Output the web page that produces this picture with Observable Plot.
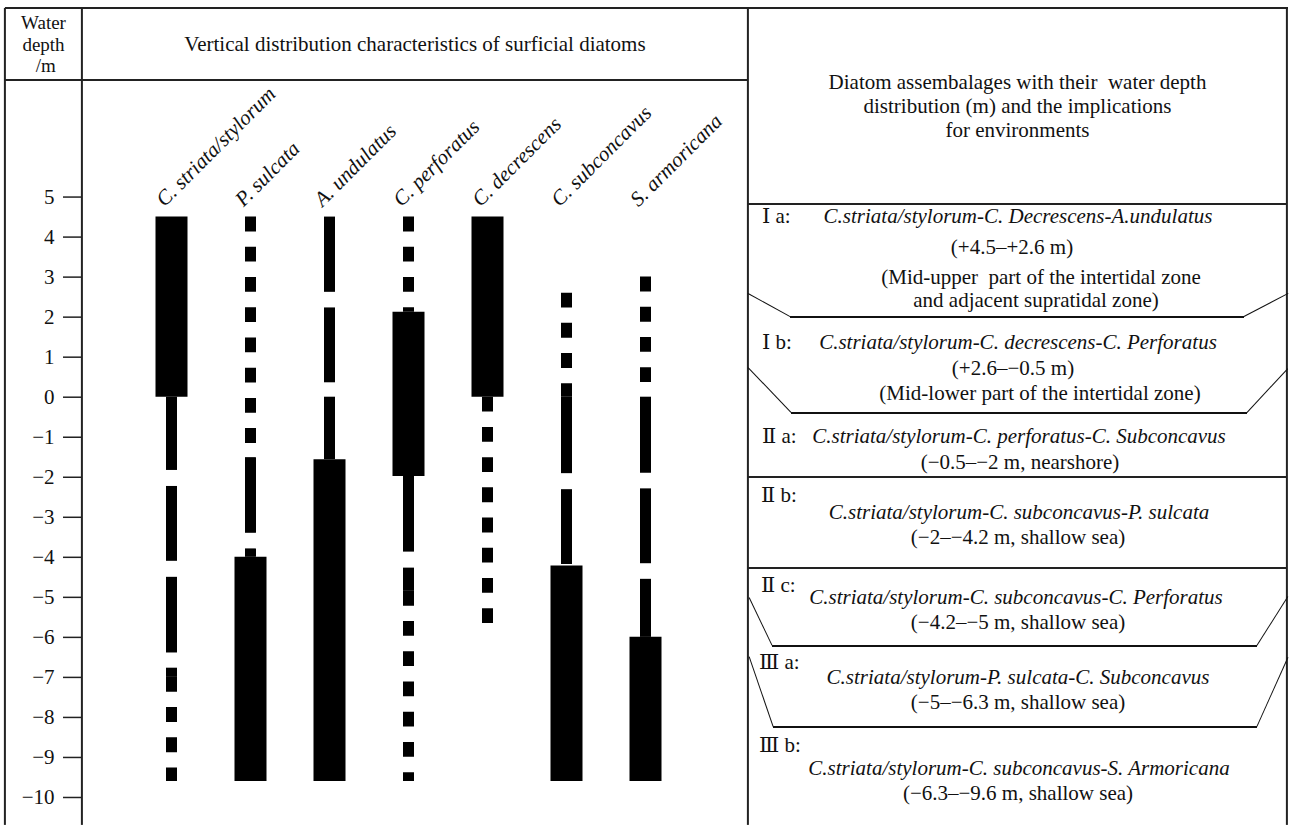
<!DOCTYPE html>
<html><head><meta charset="utf-8">
<script src="https://cdn.jsdelivr.net/npm/d3@7"></script>
<script src="https://cdn.jsdelivr.net/npm/@observablehq/plot@0.6"></script>
<style>
body{margin:0;background:#fff;}
#fig{position:relative;width:1290px;height:825px;overflow:hidden;font-family:"Liberation Serif","DejaVu Serif","Times New Roman",serif;color:#111;background:#fff;}
#chart{position:absolute;left:0;top:80px;}
.ln{position:absolute;background:#222;}
.t{position:absolute;font-size:21px;line-height:1;white-space:pre;}
.s{font-size:19px;}
.i{font-style:italic;}
</style></head><body><div id="fig"><div id="chart"></div></div>
<script>
// ---------- DATA ----------
const species = ["C. striata/stylorum","P. sulcata","A. undulatus","C. perforatus","C. decrescens","C. subconcavus","S. armoricana"];
const depthTicks = [5,4,3,2,1,0,-1,-2,-3,-4,-5,-6,-7,-8,-9,-10];
// [top depth (m), bottom depth (m), abundance class]
const striataSegs = [[4.5,0,"abundant"],[0,-1.83,"common"],[-2.23,-4.1,"common"],[-4.5,-6.39,"common"],[-6.77,-7.0,"common"],[-7.0,-9.6,"rare"]];
const sulcataSegs = [[4.5,-1.51,"rare"],[-1.51,-3.4,"common"],[-3.79,-4.0,"common"],[-4.0,-9.6,"abundant"]];
const undulatusSegs = [[4.5,2.62,"common"],[2.23,0.36,"common"],[0,-1.56,"common"],[-1.56,-9.6,"abundant"]];
const perforatusSegs = [[4.5,2.12,"rare"],[2.12,-1.98,"abundant"],[-1.98,-3.87,"common"],[-4.27,-4.85,"common"],[-4.85,-9.6,"rare"]];
const decrescensSegs = [[4.5,0,"abundant"],[0,-5.66,"rare"]];
const subconcavusSegs = [[2.6,0,"rare"],[0,-1.91,"common"],[-2.31,-4.18,"common"],[-4.22,-9.6,"abundant"]];
const armoricanaSegs = [[3.0,0.3,"rare"],[0,-1.9,"common"],[-2.29,-4.16,"common"],[-4.55,-6.0,"common"],[-6.0,-9.6,"abundant"]];

const zoneCodes = ["Ⅰ a:","Ⅰ b:","Ⅱ a:","Ⅱ b:","Ⅱ c:","Ⅲ a:","Ⅲ b:"];
const zoneAssemblages = [
  "C.striata/stylorum-C. Decrescens-A.undulatus",
  "C.striata/stylorum-C. decrescens-C. Perforatus",
  "C.striata/stylorum-C. perforatus-C. Subconcavus",
  "C.striata/stylorum-C. subconcavus-P. sulcata",
  "C.striata/stylorum-C. subconcavus-C. Perforatus",
  "C.striata/stylorum-P. sulcata-C. Subconcavus",
  "C.striata/stylorum-C. subconcavus-S. Armoricana"];
const zoneRanges = ["(+4.5–+2.6 m)","(+2.6–−0.5 m)","(−0.5–−2 m, nearshore)","(−2–−4.2 m, shallow sea)","(−4.2–−5 m, shallow sea)","(−5–−6.3 m, shallow sea)","(−6.3–−9.6 m, shallow sea)"];
const zoneNotes = [["(Mid-upper  part of the intertidal zone","and adjacent supratidal zone)"],["(Mid-lower part of the intertidal zone)"],[],[],[],[],[]];

const depthHeader = ["Water","depth"," /m"];
const chartTitle = "Vertical distribution characteristics of surficial diatoms";
const rightHeader = ["Diatom assembalages with their  water depth","distribution (m) and the implications","for environments"];

// ---------- BUILD ----------
const segsBySpecies = [striataSegs,sulcataSegs,undulatusSegs,perforatusSegs,decrescensSegs,subconcavusSegs,armoricanaSegs];
const rows = [];
segsBySpecies.forEach((segs,i)=>segs.forEach(([top,bottom,cls])=>rows.push({species:species[i],top,bottom,cls})));

const H = 745;
const yDomain = [-10.70, 7.912];
const pxPerM = H/(yDomain[1]-yDomain[0]);
const dash = 0.37*pxPerM, gap = 0.385*pxPerM;

const chart = Plot.plot({
  width: 748, height: H,
  marginLeft: 82, marginRight: 0, marginTop: 0, marginBottom: 0,
  x: {type:"point", domain: species, range:[169,647], padding:0, axis:null},
  y: {domain: yDomain, axis:null},
  style: {fontFamily:'"Liberation Serif","Times New Roman",serif', fontSize:"21px", color:"#111", background:"transparent", overflow:"visible"},
  marks: [
    Plot.axisY({ticks: depthTicks, tickSize: 19, tickPadding: 9, fontSize: 21, stroke:"#222", strokeWidth:1.5, label:null}),
    Plot.ruleX(rows.filter(d=>d.cls==="abundant"), {x:"species", y1:"top", y2:"bottom", stroke:"#000", strokeWidth:32}),
    Plot.ruleX(rows.filter(d=>d.cls==="common"), {x:"species", y1:"top", y2:"bottom", stroke:"#000", strokeWidth:11}),
    Plot.ruleX(rows.filter(d=>d.cls==="rare"), {x:"species", y1:"top", y2:"bottom", stroke:"#000", strokeWidth:11, strokeDasharray:`${dash},${gap}`}),
    Plot.text(species, {x:d=>d, frameAnchor:"top", dy:127, dx:-7, rotate:-45, textAnchor:"start", lineAnchor:"bottom", fontStyle:"italic", fontSize:21, fill:"#111"})
  ]
});
document.getElementById("chart").appendChild(chart);

// ---------- TABLE LAYOUT ----------
const fig = document.getElementById("fig");
function line(x1,y1,x2,y2,w=1.8,c="#222"){
  const d=document.createElement("div");d.className="ln";
  const len=Math.hypot(x2-x1,y2-y1), ang=Math.atan2(y2-y1,x2-x1)*180/Math.PI;
  d.style.cssText=`left:${x1}px;top:${y1-w/2}px;width:${len}px;height:${w}px;background:${c};transform-origin:0 50%;transform:rotate(${ang}deg);`;
  fig.appendChild(d);
}
function text(s,x,y,anchor="middle",italic=false,cls=""){
  const d=document.createElement("div");d.className="t"+(italic?" i":"")+(cls?" "+cls:"");
  d.textContent=s;
  const tx = anchor==="middle"?"-50%":"0";
  d.style.left=x+"px";d.style.top=y+"px";d.style.transform=`translate(${tx},-50%)`;
  fig.appendChild(d);
}
// frame
line(5,8,1288,8);
line(5,8,5,825);
line(82,8,82,825);
line(5,80,748,80);
line(748,8,748,825);
line(1287,8,1287,825);
line(748,204,1287,204);
line(748,477,1287,477);
line(748,568,1287,568);
// trapezoid zone outlines
const traps = [
  [[748,294],[790,317],[1244,317],[1288,294]],
  [[748,368],[791,413],[1247,413],[1288,369]],
  [[749,598],[772,646],[1257,646],[1288,597]],
  [[749,657],[773,727],[1257,727],[1288,658]]];
traps.forEach(p=>{for(let i=0;i<p.length-1;i++) line(p[i][0],p[i][1],p[i+1][0],p[i+1][1],1.3,"#111");});

// header texts
const hdrY=[22,43.5,65];
depthHeader.forEach((s,i)=>text(s,43.5,hdrY[i],"middle",false,"s"));
text(chartTitle,415,44);
const rhY=[82,106,130];
rightHeader.forEach((s,i)=>text(s,1017.5,rhY[i]));

// zone texts layout
const codePos=[[762,216],[762,342],[762,436],[761,495],[761,585],[759,662],[759,745]];
const assemPos=[[1018,216],[1018,342],[1019,436],[1019,512],[1016,597],[1018,677],[1019,768]];
const rangePos=[[1012,247],[1013,368],[1020,462],[1018,537],[1018,622],[1018,702],[1018,793]];
const notePos=[[[1041,277],[1036,300]],[[1040,393]],[],[],[],[],[]];
zoneCodes.forEach((s,i)=>{
  text(s,codePos[i][0],codePos[i][1],"start");
  text(zoneAssemblages[i],assemPos[i][0],assemPos[i][1],"middle",true);
  text(zoneRanges[i],rangePos[i][0],rangePos[i][1]);
  zoneNotes[i].forEach((n,j)=>text(n,notePos[i][j][0],notePos[i][j][1]));
});
</script></body></html>
